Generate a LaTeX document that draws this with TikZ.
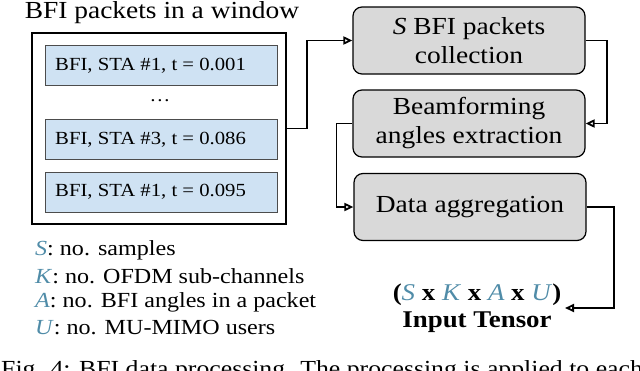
\documentclass[tikz,border=0pt]{standalone}
\usepackage{fontspec}
\setmainfont{Liberation Serif}[FakeStretch=1.12]
\usetikzlibrary{arrows.meta}
\definecolor{pktblue}{RGB}{207,226,243}
\definecolor{stepgray}{RGB}{217,217,217}
\definecolor{varcol}{RGB}{80,140,168}
\tikzset{
  pkt/.style={draw=black!70, fill=pktblue, line width=0.8pt, minimum width=232pt, minimum height=40pt, inner sep=0pt},
  stepbox/.style={draw=black, fill=stepgray, rounded corners=9pt, line width=1.2pt, minimum width=232pt, minimum height=67pt, align=center, font=\fontsize{24.5}{29}\selectfont, inner sep=0pt},
  conn/.style={line width=1.8pt, -{Triangle[open, length=9pt, width=8pt]}},
  txt/.style={font=\fontsize{18.5}{21}\selectfont, inner sep=0pt},
  leg/.style={font=\fontsize{21.5}{23}\selectfont, inner sep=0pt, anchor=west},
}
\newcommand{\vv}[1]{\textcolor{varcol}{\textit{#1}}}
\begin{document}
\begin{tikzpicture}[x=1pt,y=-1pt]
\useasboundingbox (0,0) rectangle (640,370);
\node[font=\fontsize{24.5}{26}\selectfont, inner sep=0pt] (title) at (162,13) {BFI packets in a window};
\node[draw=black, line width=1.8pt, minimum width=254pt, minimum height=191pt, inner sep=0pt] (outer) at (159,128.5) {};
\node[pkt] (b1) at (161,65.5) {};
\node[pkt] (b2) at (161,139.5) {};
\node[pkt] (b3) at (161,192) {};
\node[txt, anchor=west] (t1) at (55,65.5) {BFI, STA \#1, t = 0.001};
\node[txt] (dots) at (160,101) {\dots};
\node[txt, anchor=west] (t2) at (55,139.5) {BFI, STA \#3, t = 0.086};
\node[txt, anchor=west] (t3) at (55,192) {BFI, STA \#1, t = 0.095};

\node[stepbox] (A) at (469,40.5) {\textit{S} BFI packets\\collection};
\node[stepbox] (B) at (469,123.5) {Beamforming\\angles extraction};
\node[stepbox] (C) at (470,207) {Data aggregation};

\draw[conn] (outer.east) -- ++(20,0) |- (A.west);
\draw[conn] (A.east) -- ++(21,0) |- (B.east);
\draw[conn] (B.west) -- ++(-16,0) |- (C.west);
\coordinate (tend) at (565,308);
\draw[conn] (C.east) -- ++(27,0) |- (tend);

\node[font=\fontsize{24}{26}\selectfont\bfseries, inner sep=0pt] (dims) at (477,295) {(\vv{\mdseries S} x \vv{\mdseries K} x \vv{\mdseries A} x \vv{\mdseries U})};
\node[font=\fontsize{24}{26}\selectfont\bfseries, inner sep=0pt] (tensor) at (477,322) {Input Tensor};

\node[leg] (l1) at (35,250) {\vv{S}: no. samples};
\node[leg] (l2) at (35,276) {\vv{K}: no. OFDM sub-channels};
\node[leg] (l3) at (35,302) {\vv{A}: no. BFI angles in a packet};
\node[leg] (l4) at (35,328) {\vv{U}: no. MU-MIMO users};

\node[font=\fontsize{23}{25}\selectfont, inner sep=0pt, anchor=base west] (cap) at (1,376) {Fig. 4: BFI data processing. The processing is applied to each};
\end{tikzpicture}
\end{document}
